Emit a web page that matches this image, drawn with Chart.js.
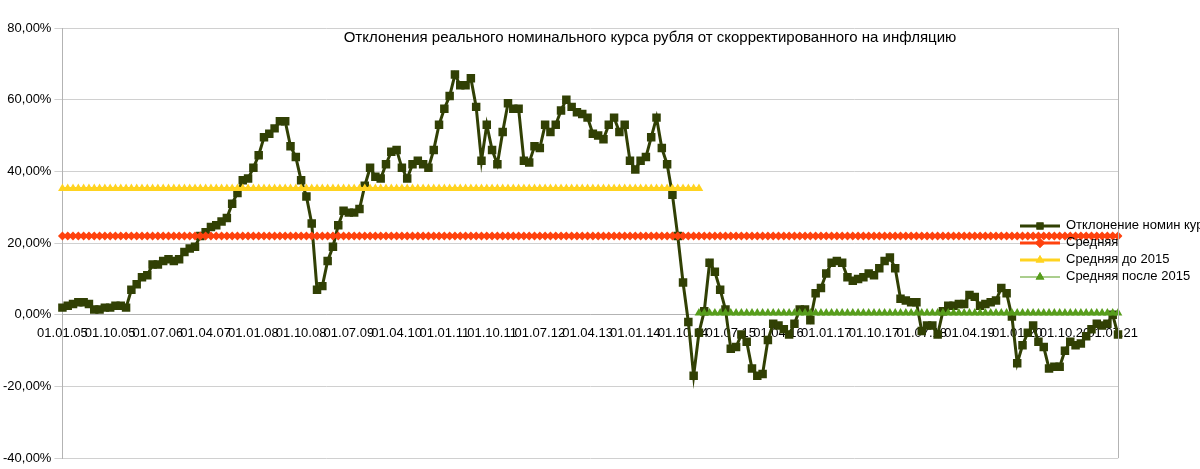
<!DOCTYPE html>
<html>
<head>
<meta charset="utf-8">
<script src="https://cdn.jsdelivr.net/npm/chart.js@4"></script>
<style>
  body { margin: 0; background: #fff; font-family: 'Liberation Sans', Arial, sans-serif; }
  #wrap { position: relative; width: 1200px; height: 469px; }
  #title { position: absolute; left: 0; width: 1300px; top: 28px; text-align: center; font-size: 15px; color: #000; }
  #legend { position: absolute; left: 1018px; top: 216px; font-size: 13px; color: #000; }
  #legend div { height: 17px; line-height: 17px; white-space: nowrap; }
  #legend canvas { vertical-align: middle; margin-right: 4px; }
</style>
</head>
<body>
<div id="wrap">
  <canvas id="chart" width="1200" height="469"></canvas>
  <div id="title">Отклонения реального номинального курса рубля от скорректированного на инфляцию</div>
  <div id="legend"></div>
</div>
<script>
// monthly dates 01.01.05 .. 01.08.21
const labels = [];
for (let y = 5; y <= 21; y++) {
    for (let m = 1; m <= 12; m++) {
        labels.push('01.' + String(m).padStart(2, '0') + '.' + String(y).padStart(2, '0'));
    }
}

const deviation = [
    2, 2.5, 3, 3.5, 3.5, 3, 1.5, 1.5, 2, 2, 2.5, 2.5,
    2, 7, 8.5, 10.5, 11, 14, 14, 15, 15.5, 15, 15.5, 17.5,
    18.5, 19, 22, 23, 24.5, 25, 26, 27, 31, 34, 37.5, 38,
    41, 44.5, 49.5, 50.5, 52, 54, 54, 47, 44, 37.5, 33, 25.5,
    7, 8, 15, 19, 25, 29, 28.5, 28.5, 29.5, 36, 41, 38.5,
    38, 42, 45.5, 46, 41, 38, 42, 43, 42, 41, 46, 53,
    57.5, 61, 67, 64, 64, 66, 58, 43, 53, 46, 42, 51,
    59, 57.5, 57.5, 43, 42.5, 47, 46.5, 53, 51, 53, 57, 60,
    58, 56.5, 56, 55, 50.5, 50, 49, 53, 55, 51, 53, 43,
    40.5, 43, 44, 49.5, 55, 46.5, 42, 33.5, 22, 9, -2, -17,
    -5, 1, 14.5, 12, 7, 1.5, -9.5, -9, -5.5, -7.5, -15, -17,
    -16.5, -7, -2.5, -3, -4, -5.5, -2.5, 1.5, 1.5, -1.5, 6, 7.5,
    11.5, 14.5, 15, 14.5, 10.5, 9.5, 10, 10.5, 11.5, 11, 13, 15,
    16, 13, 4.5, 4, 3.5, 3.5, -4.5, -3, -3, -5.5, 1, 2.5,
    2.5, 3, 3, 5.5, 5, 2.5, 3, 3.5, 4, 7.5, 6, -0.5,
    -13.5, -8.5, -5, -3, -7.5, -9, -15, -14.5, -14.5, -10, -7.5, -8.5,
    -8, -6, -4, -2.5, -3, -2.5, 0, -5.5
];
labels.length = deviation.length;

const meanAll = 22;
const meanBefore = 35.2;
const meanAfter = 0.5;
const splitIndex = 120; // 01.01.15

const yTicks = [-40, -20, 0, 20, 40, 60, 80];

const allSeries = labels.map(() => meanAll);
const beforeSeries = labels.map((_, i) => i <= splitIndex ? meanBefore : null);
const afterSeries = labels.map((_, i) => i >= splitIndex ? meanAfter : null);

const fmt = v => v.toFixed(2).replace('.', ',') + '%';

new Chart(document.getElementById('chart'), {
    type: 'line',
    data: {
        labels: labels,
        datasets: [
            {
                label: 'Средняя после 2015',
                data: afterSeries,
                borderColor: '#579d1c', backgroundColor: '#579d1c',
                borderWidth: 1, pointStyle: 'triangle', pointRadius: 5, pointBorderWidth: 0
            },
            {
                label: 'Средняя до 2015',
                data: beforeSeries,
                borderColor: '#ffd320', backgroundColor: '#ffd320',
                borderWidth: 3, pointStyle: 'triangle', pointRadius: 5, pointBorderWidth: 0
            },
            {
                label: 'Средняя',
                data: allSeries,
                borderColor: '#ff420e', backgroundColor: '#ff420e',
                borderWidth: 3, pointStyle: 'rectRot', pointRadius: 4.5, pointBorderWidth: 0
            },
            {
                label: 'Отклонение номин курса',
                data: deviation,
                borderColor: '#314004', backgroundColor: '#314004',
                borderWidth: 3, pointStyle: 'rect', pointRadius: 6, pointBorderWidth: 0
            }
        ]
    },
    options: {
        responsive: false,
        animation: false,
        layout: { padding: { top: 28, right: 82, left: 0, bottom: 0 } },
        plugins: { legend: { display: false }, tooltip: { enabled: false } },
        scales: {
            x: {
                position: { y: 0 },
                offset: false,
                grid: { display: false },
                border: { color: '#b3b3b3' },
                ticks: {
                    autoSkip: false, maxRotation: 0, color: '#000',
                    font: { family: "'Liberation Sans', Arial", size: 13 },
                    callback: (v, i) => i % 9 === 0 ? labels[i] : null
                }
            },
            y: {
                min: -40, max: 80,
                afterBuildTicks: s => { s.ticks = yTicks.map(v => ({ value: v })); },
                grid: { color: '#d0d0d0' },
                border: { color: '#b3b3b3' },
                ticks: {
                    color: '#000',
                    font: { family: "'Liberation Sans', Arial", size: 13 },
                    callback: v => fmt(v)
                }
            }
        }
    },
    plugins: [{
        id: 'frame',
        afterDraw(c) {
            const a = c.chartArea, ctx = c.ctx;
            ctx.save();
            ctx.strokeStyle = '#b3b3b3';
            ctx.beginPath();
            ctx.moveTo(a.right + 0.5, a.top); ctx.lineTo(a.right + 0.5, a.bottom);
            ctx.stroke();
            ctx.restore();
        }
    }]
});

// legend as html
const legendItems = [
    ['Отклонение номин курса', '#314004', 'rect', 3],
    ['Средняя', '#ff420e', 'rectRot', 3],
    ['Средняя до 2015', '#ffd320', 'triangle', 3],
    ['Средняя после 2015', '#579d1c', 'triangle', 1]
];
const legendEl = document.getElementById('legend');
legendItems.forEach(([text, color, style, lw]) => {
    const row = document.createElement('div');
    const cv = document.createElement('canvas');
    cv.width = 44; cv.height = 14;
    const g = cv.getContext('2d');
    g.strokeStyle = color; g.fillStyle = color; g.lineWidth = lw;
    g.beginPath(); g.moveTo(2, 7); g.lineTo(42, 7); g.stroke();
    Chart.helpers.drawPoint(g, { pointStyle: style, radius: 5, borderWidth: 0 }, 22, 7);
    g.fill();
    row.appendChild(cv);
    row.appendChild(document.createTextNode(text));
    legendEl.appendChild(row);
});
</script>
</body>
</html>
